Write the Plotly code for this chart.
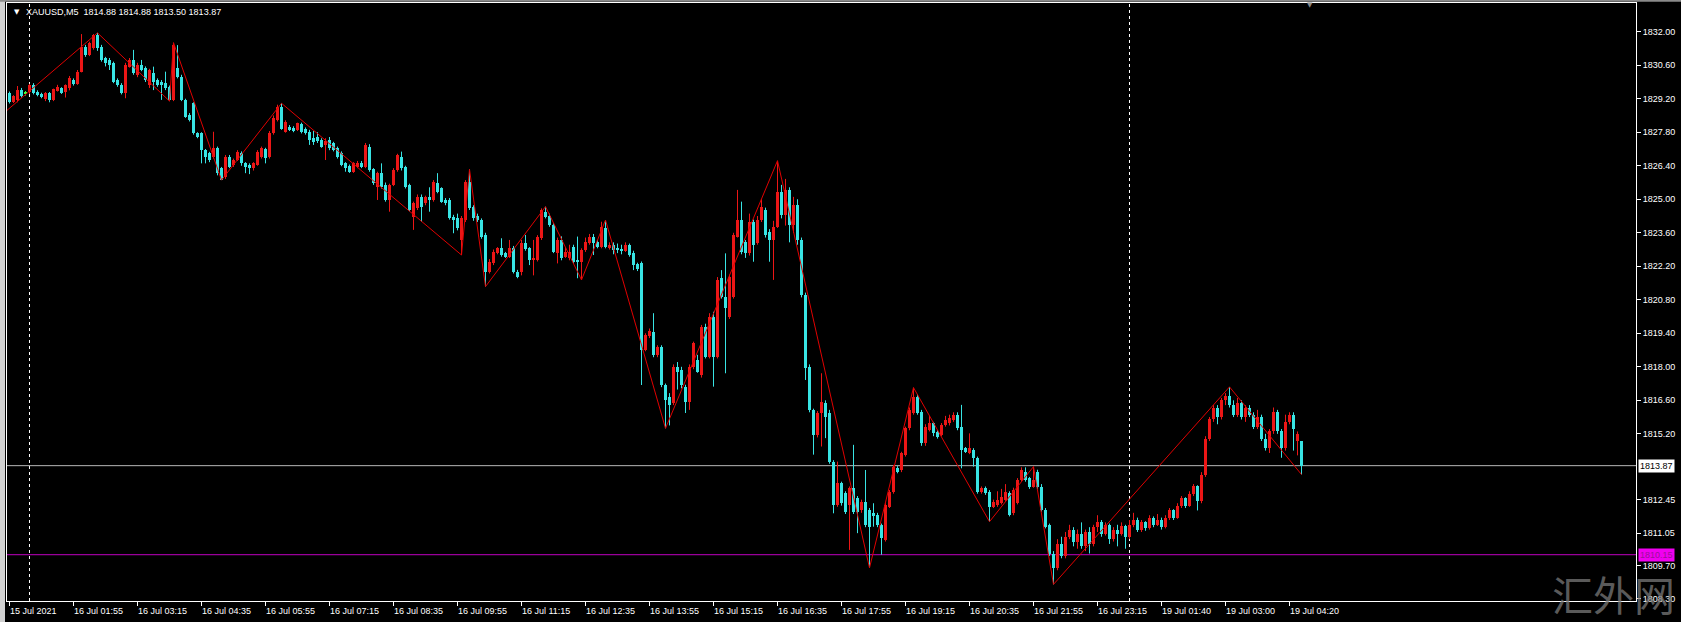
import plotly.graph_objects as go

SYMBOL_HEADER = "XAUUSD,M5\u00a0\u00a01814.88 1814.88 1813.50 1813.87"

OPEN = [
    1829.43, 1829.08, 1829.15, 1829.56, 1829.40, 1829.49, 1829.77, 1829.50, 1829.40, 1829.18,
    1829.43, 1829.15, 1829.54, 1829.63, 1829.49, 1829.63, 1829.98, 1829.81, 1830.33, 1831.37,
    1831.03, 1831.31, 1831.86, 1831.37, 1830.89, 1830.82, 1830.68, 1829.98, 1829.77, 1829.43,
    1830.54, 1830.82, 1830.19, 1830.61, 1830.47, 1829.77, 1830.26, 1829.98, 1829.91, 1829.84,
    1829.70, 1829.15, 1830.47, 1830.12, 1829.15, 1828.52, 1829.01, 1827.76, 1827.76, 1827.06,
    1826.92, 1826.78, 1827.13, 1826.30, 1825.94, 1826.78, 1826.43, 1826.64, 1826.92, 1826.50,
    1826.43, 1826.29, 1826.43, 1826.78, 1827.09, 1826.78, 1827.76, 1828.30, 1828.85, 1827.82,
    1828.03, 1827.99, 1827.89, 1828.14, 1827.92, 1827.82, 1827.55, 1827.62, 1827.48, 1827.27,
    1827.48, 1827.34, 1827.13, 1826.92, 1826.50, 1826.39, 1826.15, 1826.36, 1826.53, 1826.36,
    1827.20, 1826.25, 1825.53, 1826.09, 1825.60, 1824.97, 1825.60, 1826.22, 1826.78, 1826.36,
    1825.60, 1824.27, 1824.62, 1825.11, 1824.83, 1825.11, 1824.97, 1825.67, 1825.46, 1824.97,
    1824.97, 1824.27, 1824.20, 1823.30, 1824.13, 1825.74, 1824.69, 1824.30, 1824.13, 1823.51,
    1821.97, 1822.32, 1822.74, 1822.95, 1822.74, 1822.60, 1822.95, 1821.97, 1821.97, 1823.16,
    1822.95, 1822.46, 1822.46, 1823.37, 1824.48, 1824.30, 1823.93, 1822.74, 1823.30, 1822.60,
    1822.53, 1823.02, 1822.42, 1822.39, 1822.88, 1823.16, 1823.44, 1823.20, 1823.00, 1823.79,
    1822.95, 1823.10, 1822.95, 1822.90, 1822.85, 1823.09, 1822.74, 1822.28, 1822.32, 1818.70,
    1819.30, 1819.47, 1818.49, 1818.84, 1817.24, 1816.75, 1816.47, 1818.00, 1817.87, 1817.17,
    1816.54, 1818.00, 1818.28, 1817.66, 1819.68, 1818.42, 1820.10, 1818.42, 1821.70, 1820.93,
    1820.10, 1820.93, 1823.44, 1824.13, 1823.23, 1822.74, 1824.06, 1823.16, 1824.13, 1824.55,
    1823.65, 1823.30, 1823.86, 1825.32, 1824.34, 1825.39, 1823.93, 1824.76, 1823.30, 1821.00,
    1818.01, 1816.20, 1815.15, 1816.06, 1816.47, 1816.06, 1814.04, 1812.23, 1813.14, 1812.72,
    1812.23, 1812.93, 1812.51, 1812.02, 1812.37, 1812.02, 1811.89, 1811.81, 1811.39, 1810.77,
    1812.16, 1812.79, 1813.76, 1813.70, 1814.33, 1815.43, 1816.06, 1816.75, 1816.13, 1814.81,
    1815.36, 1815.64, 1815.29, 1815.15, 1815.57, 1815.64, 1815.78, 1815.99, 1815.50, 1814.60,
    1814.40, 1814.53, 1814.18, 1812.79, 1812.93, 1812.79, 1812.16, 1812.23, 1812.30, 1812.44,
    1812.72, 1811.88, 1812.30, 1813.27, 1813.62, 1813.34, 1812.99, 1813.62, 1812.99, 1812.02,
    1811.39, 1810.20, 1809.60, 1810.60, 1810.10, 1810.90, 1811.20, 1810.70, 1811.00, 1810.50,
    1811.10, 1810.60, 1811.30, 1811.50, 1811.00, 1811.40, 1810.80, 1811.20, 1811.00, 1811.35,
    1810.90, 1811.40, 1811.60, 1811.20, 1811.50, 1811.25, 1811.70, 1811.40, 1811.60, 1811.30,
    1811.70, 1812.00, 1811.70, 1812.20, 1812.50, 1812.20, 1812.70, 1813.00, 1812.40, 1813.50,
    1815.00, 1815.80, 1816.30, 1815.90, 1816.60, 1816.80, 1816.40, 1816.00, 1816.50, 1815.90,
    1816.30, 1816.00, 1815.50, 1815.90, 1815.00, 1814.60, 1815.30, 1816.10, 1815.30, 1814.60,
    1815.70, 1816.00, 1814.90, 1814.88,
]
HIGH = [
    1829.50, 1829.35, 1829.73, 1829.65, 1829.52, 1829.82, 1829.85, 1829.55, 1829.45, 1829.48,
    1829.48, 1829.62, 1829.78, 1829.68, 1829.80, 1830.15, 1830.05, 1830.40, 1831.90, 1831.45,
    1831.58, 1831.90, 1831.95, 1831.45, 1830.95, 1830.90, 1830.75, 1830.05, 1829.85, 1830.70,
    1830.90, 1831.24, 1830.70, 1830.82, 1830.55, 1830.45, 1830.54, 1830.05, 1829.98, 1830.33,
    1829.75, 1831.54, 1831.44, 1830.20, 1829.20, 1828.60, 1829.05, 1827.80, 1827.80, 1827.10,
    1826.98, 1827.82, 1827.20, 1826.35, 1826.85, 1826.85, 1826.70, 1827.05, 1827.00, 1826.55,
    1826.50, 1826.55, 1827.05, 1827.20, 1827.15, 1827.85, 1828.50, 1828.95, 1829.01, 1828.30,
    1828.10, 1828.05, 1828.20, 1828.20, 1828.00, 1827.90, 1827.85, 1827.80, 1827.55, 1827.55,
    1827.60, 1827.40, 1827.20, 1827.00, 1826.55, 1826.45, 1826.55, 1826.60, 1826.60, 1827.35,
    1827.30, 1826.30, 1826.15, 1826.50, 1825.70, 1825.65, 1826.30, 1826.90, 1826.99, 1826.40,
    1825.65, 1824.90, 1825.20, 1825.20, 1825.15, 1825.50, 1825.80, 1826.09, 1825.50, 1825.05,
    1825.05, 1824.35, 1824.40, 1824.30, 1825.80, 1826.25, 1824.75, 1824.40, 1824.20, 1823.60,
    1822.50, 1822.90, 1823.00, 1823.37, 1822.80, 1823.30, 1823.05, 1822.05, 1823.30, 1823.51,
    1823.00, 1823.30, 1823.50, 1824.62, 1824.69, 1824.40, 1824.00, 1823.40, 1823.45, 1823.00,
    1823.10, 1823.10, 1823.44, 1822.95, 1823.40, 1823.55, 1823.55, 1823.30, 1824.06, 1824.13,
    1823.20, 1823.20, 1823.15, 1823.10, 1823.20, 1823.15, 1822.85, 1822.35, 1822.40, 1819.40,
    1819.60, 1820.24, 1818.90, 1818.90, 1817.30, 1816.90, 1818.10, 1818.20, 1818.00, 1817.25,
    1818.10, 1819.05, 1818.50, 1819.75, 1819.80, 1820.24, 1820.30, 1821.75, 1822.04, 1822.74,
    1821.85, 1823.60, 1825.39, 1824.90, 1823.30, 1824.40, 1824.15, 1824.30, 1825.00, 1824.65,
    1823.75, 1824.10, 1826.61, 1825.60, 1825.85, 1825.50, 1825.10, 1825.00, 1823.40, 1821.10,
    1818.10, 1816.25, 1816.15, 1817.73, 1816.60, 1816.20, 1814.10, 1814.04, 1813.20, 1812.80,
    1813.00, 1814.74, 1812.60, 1812.45, 1813.69, 1812.10, 1812.30, 1811.90, 1811.45, 1812.30,
    1812.85, 1813.90, 1813.85, 1814.45, 1815.50, 1816.30, 1817.13, 1816.85, 1816.20, 1815.60,
    1815.95, 1815.70, 1815.35, 1815.65, 1815.95, 1816.00, 1816.10, 1816.10, 1816.41, 1814.65,
    1815.22, 1814.60, 1814.25, 1813.00, 1813.00, 1812.85, 1812.45, 1812.80, 1812.90, 1813.10,
    1812.80, 1812.95, 1813.35, 1813.80, 1813.80, 1813.40, 1813.83, 1813.70, 1813.10, 1812.10,
    1811.45, 1810.30, 1810.80, 1810.90, 1811.10, 1811.40, 1811.30, 1811.20, 1811.50, 1811.20,
    1811.30, 1811.40, 1811.80, 1811.60, 1811.50, 1811.45, 1811.30, 1811.40, 1811.50, 1811.40,
    1811.60, 1811.90, 1811.70, 1811.60, 1811.55, 1811.80, 1811.75, 1811.85, 1811.70, 1811.80,
    1812.10, 1812.05, 1812.30, 1812.60, 1812.55, 1812.80, 1813.10, 1813.05, 1813.60, 1815.10,
    1815.90, 1816.40, 1816.40, 1816.70, 1816.90, 1817.16, 1816.60, 1816.70, 1816.60, 1816.40,
    1816.40, 1816.10, 1816.20, 1816.00, 1815.20, 1815.40, 1816.30, 1816.20, 1815.40, 1816.00,
    1816.10, 1816.10, 1815.30, 1814.88,
]
LOW = [
    1829.00, 1829.02, 1829.05, 1829.25, 1829.33, 1829.40, 1829.38, 1829.30, 1829.22, 1829.10,
    1829.05, 1829.10, 1829.50, 1829.40, 1829.25, 1829.55, 1829.75, 1829.78, 1830.30, 1830.95,
    1830.98, 1831.25, 1831.20, 1830.75, 1830.55, 1830.40, 1829.85, 1829.70, 1829.38, 1829.22,
    1830.50, 1830.20, 1830.10, 1830.35, 1829.90, 1829.65, 1829.56, 1829.70, 1829.15, 1829.56,
    1829.10, 1829.10, 1830.05, 1829.10, 1828.40, 1828.25, 1827.70, 1827.55, 1826.50, 1826.50,
    1826.55, 1826.70, 1826.00, 1825.80, 1825.85, 1826.30, 1826.35, 1826.60, 1826.40, 1826.09,
    1826.05, 1826.20, 1826.40, 1826.70, 1826.50, 1826.70, 1827.70, 1828.25, 1827.90, 1827.78,
    1827.85, 1827.80, 1827.85, 1827.75, 1827.70, 1827.27, 1827.27, 1827.35, 1827.15, 1826.64,
    1827.05, 1827.00, 1826.70, 1826.38, 1826.15, 1826.10, 1826.10, 1826.30, 1826.30, 1826.30,
    1826.15, 1825.60, 1824.97, 1825.45, 1824.90, 1824.48, 1825.55, 1826.15, 1826.20, 1825.45,
    1824.50, 1823.72, 1824.55, 1824.06, 1824.75, 1824.48, 1824.90, 1825.25, 1824.85, 1824.75,
    1824.15, 1823.58, 1823.70, 1822.67, 1824.05, 1824.55, 1824.10, 1824.05, 1823.35, 1821.35,
    1821.90, 1822.25, 1822.70, 1822.60, 1822.55, 1822.55, 1821.90, 1821.70, 1821.82, 1822.85,
    1822.25, 1821.82, 1822.40, 1823.30, 1824.20, 1823.85, 1822.75, 1822.32, 1822.45, 1822.55,
    1822.45, 1822.30, 1821.70, 1821.63, 1822.80, 1823.10, 1822.67, 1822.95, 1822.95, 1822.95,
    1822.90, 1822.70, 1822.75, 1822.70, 1822.80, 1822.60, 1822.04, 1822.00, 1817.24, 1818.65,
    1819.20, 1818.40, 1818.40, 1817.15, 1815.43, 1815.55, 1816.40, 1817.05, 1817.10, 1816.07,
    1816.20, 1817.90, 1817.75, 1817.55, 1818.35, 1818.35, 1817.17, 1818.35, 1820.85, 1817.73,
    1820.00, 1820.85, 1823.40, 1822.70, 1822.55, 1822.65, 1822.39, 1823.10, 1824.05, 1823.40,
    1822.39, 1821.63, 1823.80, 1824.20, 1823.90, 1823.20, 1823.60, 1823.10, 1820.90, 1817.45,
    1816.10, 1814.33, 1815.05, 1814.67, 1815.02, 1813.95, 1811.88, 1812.15, 1812.20, 1811.85,
    1810.35, 1811.85, 1811.05, 1811.90, 1811.30, 1809.60, 1811.32, 1811.30, 1810.15, 1810.70,
    1812.10, 1812.70, 1813.55, 1813.60, 1814.25, 1815.35, 1816.00, 1816.00, 1814.70, 1814.70,
    1815.30, 1815.10, 1815.00, 1815.10, 1815.50, 1815.55, 1815.70, 1815.35, 1813.76, 1814.40,
    1814.35, 1813.83, 1812.70, 1812.70, 1812.65, 1811.53, 1812.10, 1812.15, 1812.25, 1812.40,
    1811.75, 1811.80, 1812.25, 1813.20, 1813.20, 1812.90, 1812.95, 1812.90, 1811.95, 1811.25,
    1810.10, 1808.91, 1809.50, 1810.00, 1810.00, 1810.80, 1810.50, 1810.40, 1810.40, 1810.30,
    1810.20, 1810.50, 1811.10, 1810.90, 1810.95, 1810.60, 1810.70, 1810.50, 1810.95, 1810.40,
    1810.80, 1811.30, 1811.10, 1811.10, 1811.15, 1811.20, 1811.30, 1811.35, 1811.20, 1811.25,
    1811.60, 1811.60, 1811.65, 1812.10, 1812.10, 1812.15, 1812.60, 1812.00, 1812.30, 1813.40,
    1814.90, 1815.70, 1815.60, 1815.80, 1816.40, 1816.30, 1815.90, 1815.90, 1815.80, 1815.70,
    1815.90, 1815.40, 1815.40, 1814.90, 1814.50, 1814.40, 1815.20, 1815.20, 1814.20, 1814.50,
    1815.60, 1814.50, 1814.30, 1813.50,
]
CLOSE = [
    1829.08, 1829.31, 1829.56, 1829.31, 1829.40, 1829.77, 1829.43, 1829.35, 1829.27, 1829.45,
    1829.15, 1829.60, 1829.70, 1829.45, 1829.77, 1830.05, 1829.81, 1830.33, 1831.37, 1831.03,
    1831.54, 1831.86, 1831.31, 1830.82, 1830.68, 1830.61, 1829.91, 1829.77, 1829.43, 1830.61,
    1830.82, 1830.26, 1830.61, 1830.40, 1829.98, 1830.40, 1829.91, 1829.77, 1829.77, 1829.63,
    1829.15, 1831.44, 1830.12, 1829.15, 1828.45, 1828.31, 1827.76, 1827.61, 1827.06, 1826.78,
    1826.64, 1827.13, 1826.09, 1825.81, 1826.78, 1826.36, 1826.64, 1826.99, 1826.50, 1826.36,
    1826.29, 1826.50, 1826.99, 1827.13, 1826.71, 1827.76, 1828.40, 1828.85, 1827.95, 1828.24,
    1827.89, 1827.86, 1828.17, 1827.82, 1827.78, 1827.48, 1827.41, 1827.45, 1827.20, 1827.45,
    1827.13, 1827.06, 1826.78, 1826.43, 1826.29, 1826.15, 1826.50, 1826.53, 1826.36, 1827.27,
    1826.22, 1825.67, 1826.09, 1825.53, 1824.97, 1825.60, 1826.22, 1826.85, 1826.29, 1825.53,
    1824.55, 1824.83, 1825.11, 1824.69, 1825.08, 1824.97, 1825.74, 1825.32, 1824.90, 1824.83,
    1824.20, 1824.13, 1823.79, 1824.20, 1825.74, 1824.62, 1824.20, 1824.13, 1823.44, 1821.97,
    1822.39, 1822.81, 1822.95, 1822.67, 1822.60, 1822.95, 1821.97, 1821.77, 1823.16, 1822.91,
    1822.46, 1822.55, 1823.44, 1824.55, 1824.27, 1823.93, 1822.81, 1823.30, 1822.53, 1822.81,
    1822.81, 1822.39, 1822.39, 1822.88, 1823.23, 1823.44, 1823.16, 1823.00, 1823.86, 1823.02,
    1823.10, 1822.90, 1822.88, 1822.85, 1823.10, 1822.67, 1822.25, 1822.10, 1818.70, 1819.33,
    1819.50, 1818.49, 1818.84, 1817.24, 1816.61, 1816.40, 1818.00, 1817.80, 1817.24, 1816.54,
    1818.00, 1818.98, 1817.80, 1819.68, 1818.42, 1820.10, 1818.42, 1821.63, 1820.93, 1820.45,
    1821.77, 1823.51, 1824.13, 1822.81, 1822.74, 1824.06, 1823.09, 1824.13, 1824.69, 1823.51,
    1823.30, 1823.86, 1825.32, 1824.34, 1825.39, 1823.93, 1824.76, 1823.30, 1821.00, 1817.94,
    1816.20, 1815.15, 1816.06, 1816.54, 1815.92, 1814.04, 1812.23, 1813.14, 1812.30, 1811.95,
    1812.93, 1811.95, 1811.95, 1812.37, 1811.39, 1811.32, 1811.76, 1811.39, 1810.84, 1812.23,
    1812.79, 1813.83, 1813.62, 1814.39, 1815.43, 1816.20, 1816.75, 1816.06, 1814.81, 1815.50,
    1815.64, 1815.22, 1815.08, 1815.57, 1815.78, 1815.85, 1815.99, 1815.43, 1814.53, 1814.46,
    1814.60, 1814.18, 1812.79, 1812.93, 1812.72, 1812.16, 1812.37, 1812.44, 1812.58, 1812.79,
    1811.81, 1812.86, 1813.27, 1813.69, 1813.27, 1812.99, 1813.27, 1812.99, 1812.02, 1811.32,
    1810.20, 1809.60, 1810.60, 1810.10, 1810.90, 1811.20, 1810.70, 1811.00, 1810.50, 1811.10,
    1810.60, 1811.30, 1811.50, 1811.00, 1811.40, 1810.80, 1811.20, 1811.00, 1811.35, 1810.90,
    1811.40, 1811.60, 1811.20, 1811.50, 1811.25, 1811.70, 1811.40, 1811.60, 1811.30, 1811.70,
    1812.00, 1811.70, 1812.20, 1812.50, 1812.20, 1812.70, 1813.00, 1812.40, 1813.50, 1815.00,
    1815.80, 1816.30, 1815.90, 1816.60, 1816.80, 1816.40, 1816.00, 1816.50, 1815.90, 1816.30,
    1816.00, 1815.50, 1815.90, 1815.00, 1814.60, 1815.30, 1816.10, 1815.30, 1814.60, 1815.70,
    1816.00, 1815.40, 1815.20, 1813.87,
]

ZZ_BAR = [-1, 22, 40, 41, 53, 68, 113, 115, 119, 134, 143, 149, 164, 192, 215, 226, 245, 256, 261, 305, 323]
ZZ_PRICE = [1828.66, 1831.95, 1829.10, 1831.54, 1825.80, 1829.01, 1822.67, 1826.25, 1821.35, 1824.69,
            1821.63, 1824.13, 1815.43, 1826.61, 1809.60, 1817.13, 1811.53, 1813.83, 1808.91, 1817.16, 1813.50]

X_TICK_BARS = [0, 16, 32, 48, 64, 80, 96, 112, 128, 144, 160, 176, 192, 208, 224, 240, 256, 272, 288, 304, 320]
X_TICK_LABELS = ["15 Jul 2021", "16 Jul 01:55", "16 Jul 03:15", "16 Jul 04:35", "16 Jul 05:55",
                 "16 Jul 07:15", "16 Jul 08:35", "16 Jul 09:55", "16 Jul 11:15", "16 Jul 12:35",
                 "16 Jul 13:55", "16 Jul 15:15", "16 Jul 16:35", "16 Jul 17:55", "16 Jul 19:15",
                 "16 Jul 20:35", "16 Jul 21:55", "16 Jul 23:15", "19 Jul 01:40", "19 Jul 03:00",
                 "19 Jul 04:20"]
Y_TICKS = [1832.00, 1830.60, 1829.20, 1827.80, 1826.40, 1825.00, 1823.60, 1822.20, 1820.80,
           1819.40, 1818.00, 1816.60, 1815.20, 1812.45, 1811.05, 1809.70, 1808.30]
BID_PRICE = 1813.87
LEVEL_PRICE = 1810.15
DAY_SEPARATOR_BARS = [5, 280]
WATERMARK = "汇外网"

# ---------------- layout geometry ----------------
W, H = 1681, 622
ML, MR, MT, MB = 7, 45, 3, 21
PW = W - ML - MR
PH = H - MT - MB
BAR_PX = 4.0
X_MIN = -0.625
X_MAX = X_MIN + PW / BAR_PX
Y_MIN, Y_MAX = 1808.216, 1833.199

UP = "#ec1616"
DOWN = "#38e4e4"
DOJI = "#3cff3c"
FONT = "Liberation Sans, Arial, sans-serif"

fig = go.Figure()

groups = {UP: [], DOWN: [], DOJI: []}
for i, (o, c) in enumerate(zip(OPEN, CLOSE)):
    if c > o:
        groups[UP].append(i)
    elif c < o:
        groups[DOWN].append(i)
    else:
        groups[DOJI].append(i)

for color, idx in groups.items():
    if not idx:
        continue
    wx, wy = [], []
    for i in idx:
        wx += [i, i, None]
        wy += [LOW[i], HIGH[i], None]
    fig.add_trace(go.Scatter(x=wx, y=wy, mode="lines", line=dict(color=color, width=1),
                             hoverinfo="skip", showlegend=False))
    fig.add_trace(go.Bar(
        x=idx,
        y=[max(abs(CLOSE[i] - OPEN[i]), 0.045) for i in idx],
        base=[min(OPEN[i], CLOSE[i]) for i in idx],
        width=0.75, marker=dict(color=color, line=dict(width=0)),
        showlegend=False, hoverinfo="skip"))

fig.add_trace(go.Scatter(x=ZZ_BAR, y=ZZ_PRICE, mode="lines",
                         line=dict(color="#e00000", width=1), hoverinfo="skip", showlegend=False))

shapes = []
for b in DAY_SEPARATOR_BARS:
    shapes.append(dict(type="line", xref="x", yref="paper", x0=b, x1=b, y0=0, y1=1,
                       line=dict(color="#ffffff", width=1, dash="3px,3px"), layer="below"))
shapes.append(dict(type="line", xref="paper", yref="y", x0=0, x1=1, y0=BID_PRICE, y1=BID_PRICE,
                   line=dict(color="#b8b8b8", width=1), layer="below"))
shapes.append(dict(type="line", xref="paper", yref="y", x0=0, x1=1, y0=LEVEL_PRICE, y1=LEVEL_PRICE,
                   line=dict(color="#c000c0", width=1), layer="below"))
# window frame strips
shapes.append(dict(type="rect", xref="paper", yref="paper", x0=-ML / PW, x1=-2 / PW,
                   y0=-MB / PH, y1=1 + MT / PH, fillcolor="#cfcfcf", line=dict(width=0)))
shapes.append(dict(type="rect", xref="paper", yref="paper", x0=-ML / PW, x1=1 + MR / PW,
                   y0=1 + 1.2 / PH, y1=1 + MT / PH, fillcolor="#8a8a8a", line=dict(width=0)))

ann = []
for b, t in zip(X_TICK_BARS, X_TICK_LABELS):
    ann.append(dict(x=b, y=-9.5 / PH, xref="x", yref="paper", text=t, showarrow=False,
                    xanchor="left", yanchor="middle", xshift=-2,
                    font=dict(family=FONT, size=9, color="#ffffff")))
ann.append(dict(x=1 + 1.5 / PW, y=BID_PRICE, xref="paper", yref="y", text=f"{BID_PRICE:.2f}",
                showarrow=False, xanchor="left", yanchor="middle", bgcolor="#ffffff",
                borderpad=1, font=dict(family=FONT, size=9, color="#000000")))
ann.append(dict(x=1 + 1.5 / PW, y=LEVEL_PRICE, xref="paper", yref="y", text=f"{LEVEL_PRICE:.2f}",
                showarrow=False, xanchor="left", yanchor="middle", bgcolor="#f000f0",
                borderpad=1, font=dict(family=FONT, size=9, color="#9a109a")))
ann.append(dict(x=5 / PW, y=1 - 8.5 / PH, xref="paper", yref="paper", text="▼", showarrow=False,
                xanchor="left", yanchor="middle", font=dict(family="DejaVu Sans", size=7, color="#ffffff")))
ann.append(dict(x=17 / PW, y=1 - 8.5 / PH, xref="paper", yref="paper", text=SYMBOL_HEADER,
                showarrow=False, xanchor="left", yanchor="middle",
                font=dict(family=FONT, size=9, color="#ffffff")))
ann.append(dict(x=(1310 - ML) / PW, y=1 - 2 / PH, xref="paper", yref="paper", text="▼", showarrow=False,
                xanchor="center", yanchor="middle",
                font=dict(family="DejaVu Sans", size=7, color="#8a8a8a")))
ann.append(dict(x=(1613 - ML) / PW, y=(MT + PH - 593) / PH, xref="paper", yref="paper", text=WATERMARK,
                showarrow=False, xanchor="center", yanchor="middle",
                font=dict(family="Noto Sans CJK SC", size=41, color="rgba(120,120,120,0.75)")))

fig.update_layout(
    width=W, height=H,
    margin=dict(l=ML, r=MR, t=MT, b=MB, pad=0),
    paper_bgcolor="#000000", plot_bgcolor="#000000",
    barmode="overlay", bargap=0,
    showlegend=False,
    shapes=shapes, annotations=ann,
    xaxis=dict(range=[X_MIN, X_MAX], showgrid=False, zeroline=False,
               tickvals=X_TICK_BARS, ticktext=[""] * len(X_TICK_BARS),
               ticks="outside", ticklen=4, tickcolor="#ffffff", tickwidth=1,
               showline=True, linecolor="#ffffff", linewidth=1, mirror=True, fixedrange=True),
    yaxis=dict(range=[Y_MIN, Y_MAX], side="right", showgrid=False, zeroline=False,
               tickvals=Y_TICKS, ticktext=[f"{v:.2f}" for v in Y_TICKS],
               ticks="outside", ticklen=4, tickcolor="#ffffff", tickwidth=1,
               tickfont=dict(family=FONT, size=9, color="#ffffff"),
               showline=True, linecolor="#ffffff", linewidth=1, mirror=True, fixedrange=True),
)

fig.write_html("out.html", config={"displayModeBar": False},
               post_script="document.body.style.margin='0px';document.body.style.background='#000';")
